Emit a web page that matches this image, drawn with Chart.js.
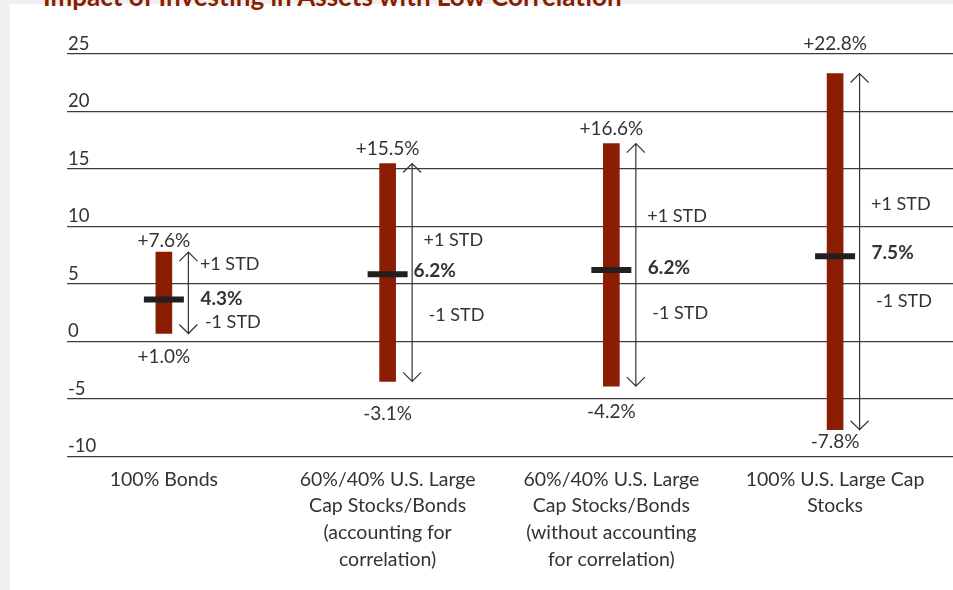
<!DOCTYPE html>
<html>
<head>
<meta charset="utf-8">
<script src="https://cdn.jsdelivr.net/npm/chart.js@4.4.1/dist/chart.umd.min.js"></script>
<style>
  html, body { margin:0; padding:0; background:#f0f0f0; width:953px; height:590px; overflow:hidden; }
  #panel { position:absolute; left:10px; top:4px; width:943px; height:586px; background:#ffffff; }
  #title { position:absolute; left:43px; top:-17.5px; font-family:Lato, sans-serif; font-weight:bold; font-size:26px; line-height:26px; color:#8B1E02; white-space:nowrap; }
  #c { position:absolute; left:0; top:0; }
</style>
</head>
<body>
<div id="panel"></div>
<div id="title">Impact of Investing in Assets with Low Correlation</div>
<canvas id="c" width="953" height="590"></canvas>
<script>
// ---- data ----
const categories = [
  ["100% Bonds"],
  ["60%/40% U.S. Large", "Cap Stocks/Bonds", "(accounting for", "correlation)"],
  ["60%/40% U.S. Large", "Cap Stocks/Bonds", "(without accounting", "for correlation)"],
  ["100% U.S. Large Cap", "Stocks"]
];
const highs = [7.75, 15.47, 17.2, 23.3];     // +1 STD end of range (as drawn)
const lows = [0.67, -3.49, -3.9, -7.7];      // -1 STD end of range (as drawn)
const means = [3.64, 5.84, 6.19, 7.4];       // average return marker (as drawn)
const highLabels = ["+7.6%", "+15.5%", "+16.6%", "+22.8%"];
const lowLabels = ["+1.0%", "-3.1%", "-4.2%", "-7.8%"];
const meanLabels = ["4.3%", "6.2%", "6.2%", "7.5%"];
const yTicks = [25, 20, 15, 10, 5, 0, -5, -10];

// ---- label placement (value units on the y scale, px offsets on x) ----
const annotLayout = {
  topY: [8.71, 16.76, 18.46, 25.85],
  bottomY: [-1.32, -6.30, -6.13, -8.75],
  meanY: [3.72, 6.14, 6.36, 7.69],
  plusY: [6.71, 8.76, 10.85, 11.90],
  minusY: [1.66, 2.30, 2.41, 3.48],
  arrowDx: 24.5,
  meanDx: [12, 1.5, 12, 12],
  plusDx: 11.5,
  minusDx: 16.5
};

const textColor = '#333333';
const fontFamily = 'Lato, sans-serif';

const annotPlugin = {
  id: 'annot',
  afterDatasetsDraw(chart) {
    const ctx = chart.ctx;
    const xs = chart.scales.x, ys = chart.scales.y;
    ctx.save();
    for (let i = 0; i < categories.length; i++) {
      const cx = xs.getPixelForValue(i);
      const ax = cx + annotLayout.arrowDx;
      const yT = ys.getPixelForValue(highs[i]);
      const yB = ys.getPixelForValue(lows[i]);
      // double-headed arrow
      ctx.strokeStyle = '#333';
      ctx.lineWidth = 1.2;
      ctx.beginPath();
      ctx.moveTo(ax, yT); ctx.lineTo(ax, yB);
      ctx.moveTo(ax - 9, yT + 9); ctx.lineTo(ax, yT); ctx.lineTo(ax + 9, yT + 9);
      ctx.moveTo(ax - 9, yB - 9); ctx.lineTo(ax, yB); ctx.lineTo(ax + 9, yB - 9);
      ctx.stroke();
      // texts
      ctx.fillStyle = textColor;
      ctx.textBaseline = 'middle';
      ctx.font = '19px ' + fontFamily;
      ctx.textAlign = 'center';
      ctx.fillText(highLabels[i], cx, ys.getPixelForValue(annotLayout.topY[i]));
      ctx.fillText(lowLabels[i], cx, ys.getPixelForValue(annotLayout.bottomY[i]));
      ctx.textAlign = 'left';
      ctx.font = '18px ' + fontFamily;
      ctx.fillText('+1 STD', ax + annotLayout.plusDx, ys.getPixelForValue(annotLayout.plusY[i]));
      ctx.fillText('-1 STD', ax + annotLayout.minusDx, ys.getPixelForValue(annotLayout.minusY[i]));
      ctx.font = 'bold 19px ' + fontFamily;
      ctx.fillText(meanLabels[i], ax + annotLayout.meanDx[i], ys.getPixelForValue(annotLayout.meanY[i]));
    }
    ctx.restore();
  }
};

new Chart(document.getElementById('c'), {
  type: 'bar',
  data: {
    datasets: [
      {
        type: 'line',
        label: 'Average',
        data: means.map((m, i) => ({ x: i, y: m })),
        showLine: false,
        pointStyle: 'line',
        pointRadius: 20,
        pointHoverRadius: 20,
        pointBorderWidth: 6,
        pointBorderColor: '#231f20',
        borderColor: '#231f20',
        order: 0
      },
      {
        type: 'bar',
        label: 'Range',
        data: highs.map((h, i) => ({ x: i, y: [lows[i], h] })),
        backgroundColor: '#8B1E02',
        borderWidth: 0,
        barThickness: 16,
        order: 1
      }
    ]
  },
  options: {
    responsive: false,
    animation: false,
    devicePixelRatio: 1,
    layout: { autoPadding: false, padding: { left: 65, right: 0, top: 54, bottom: 15 } },
    plugins: { legend: { display: false }, tooltip: { enabled: false } },
    scales: {
      x: {
        type: 'linear',
        offset: false,
        min: -0.433,
        max: 3.527,
        grid: { display: false, offset: false },
        border: { display: false },
        afterBuildTicks: (axis) => { axis.ticks = categories.map((c, i) => ({ value: i })); },
        ticks: {
          autoSkip: false,
          maxRotation: 0,
          padding: 2,
          color: textColor,
          font: { family: fontFamily, size: 19.5, lineHeight: 1.37 },
          callback: (v) => categories[v]
        }
      },
      y: {
        type: 'linear',
        min: -10,
        max: 25,
        afterBuildTicks: (axis) => { axis.ticks = yTicks.map(v => ({ value: v })); },
        grid: { color: '#3c3c3c', lineWidth: 1.2, drawTicks: false },
        border: { display: false },
        ticks: {
          mirror: true,
          padding: 1,
          labelOffset: -10,
          color: textColor,
          font: { family: fontFamily, size: 18.5 },
          callback: (v) => String(v)
        }
      }
    }
  },
  plugins: [annotPlugin]
});
</script>
</body>
</html>
